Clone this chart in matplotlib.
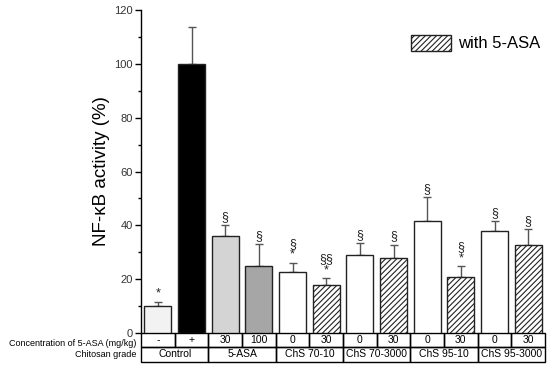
import numpy as np
import matplotlib.pyplot as plt
from matplotlib.patches import Rectangle

conc_labels = ["-", "+", "30", "100", "0", "30", "0", "30", "0", "30", "0", "30"]
groups = ["Control", "5-ASA", "ChS 70-10", "ChS 70-3000", "ChS 95-10", "ChS 95-3000"]
activity = [10.2, 100, 36, 25, 22.5, 17.8, 29, 27.8, 41.5, 20.8, 38, 32.8]
err = [1.3, 13.7, 4, 8, 3.6, 2.5, 4.3, 5, 9, 4, 3.6, 5.8]
marks = ["*", "", "§", "§", "§\n*", "§§\n*", "§", "§", "§", "§\n*", "§", "§"]
fills = ["#f2f2f2", "#000000", "#d4d4d4", "#a6a6a6"] + ["white"] * 8
hatched = [False] * 4 + [False, True] * 4

plt.rcParams["font.family"] = ["Liberation Sans", "DejaVu Sans"]
plt.rcParams["hatch.linewidth"] = 0.8

fig = plt.figure(figsize=(5.5, 3.73), dpi=100)
ax = fig.add_axes([0.2564, 0.1072, 0.7346, 0.8658])

x = np.arange(len(activity))
for i in x:
    ax.bar(i, activity[i], width=0.8, color=fills[i], edgecolor="#222222",
           linewidth=1, hatch="//////" if hatched[i] else None, zorder=2)
ax.errorbar(x, activity, yerr=[np.zeros(len(err)), err], fmt="none",
            ecolor="#555555", elinewidth=1, capsize=3, capthick=1, zorder=1)
for i in x:
    if marks[i]:
        ax.text(i, activity[i] + err[i] + 0.8, marks[i], ha="center", va="bottom",
                fontsize=9, linespacing=0.85, color="#222222")

ax.set_xlim(-0.5, 11.5)
ax.set_ylim(0, 120)
ax.set_yticks(np.arange(0, 121, 20))
ax.set_yticks(np.arange(0, 121, 10), minor=True)
ax.tick_params(axis="y", labelsize=8, length=4, width=1, pad=2, labelcolor="#333333")
ax.tick_params(axis="y", which="minor", length=2.5, width=1)
ax.set_xticks([])
for s in ["top", "right", "bottom"]:
    ax.spines[s].set_visible(False)
ax.spines["left"].set_linewidth(1)
ax.set_ylabel("NF-κB activity (%)", fontsize=13.5)
ax.yaxis.set_label_coords(-0.078, 0.5)

# table under the bars
row_h = 5.3
for i in x:
    ax.add_patch(Rectangle((i - 0.5, -row_h), 1, row_h, fill=False, lw=1,
                           edgecolor="black", clip_on=False))
    ax.text(i, -row_h / 2, conc_labels[i], ha="center", va="center", fontsize=7.5)
for g, name in enumerate(groups):
    ax.add_patch(Rectangle((2 * g - 0.5, -2 * row_h), 2, row_h, fill=False, lw=1,
                           edgecolor="black", clip_on=False))
    ax.text(2 * g + 0.5, -1.5 * row_h, name, ha="center", va="center", fontsize=7.5)
ax.text(-0.65, -row_h / 2 - 1.1, "Concentration of 5-ASA (mg/kg)", ha="right", va="center",
        fontsize=6.5)
ax.text(-0.65, -1.5 * row_h, "Chitosan grade", ha="right", va="center", fontsize=6.5)

ax.legend(handles=[Rectangle((0, 0), 1, 1, facecolor="white", edgecolor="#222222",
                             hatch="//////", lw=1)],
          labels=["with 5-ASA"], loc="upper right", frameon=False, fontsize=12,
          handlelength=2.4, handleheight=1.1, handletextpad=0.4,
          bbox_to_anchor=(1.025, 0.97))

fig.savefig("out.png", dpi=100)
